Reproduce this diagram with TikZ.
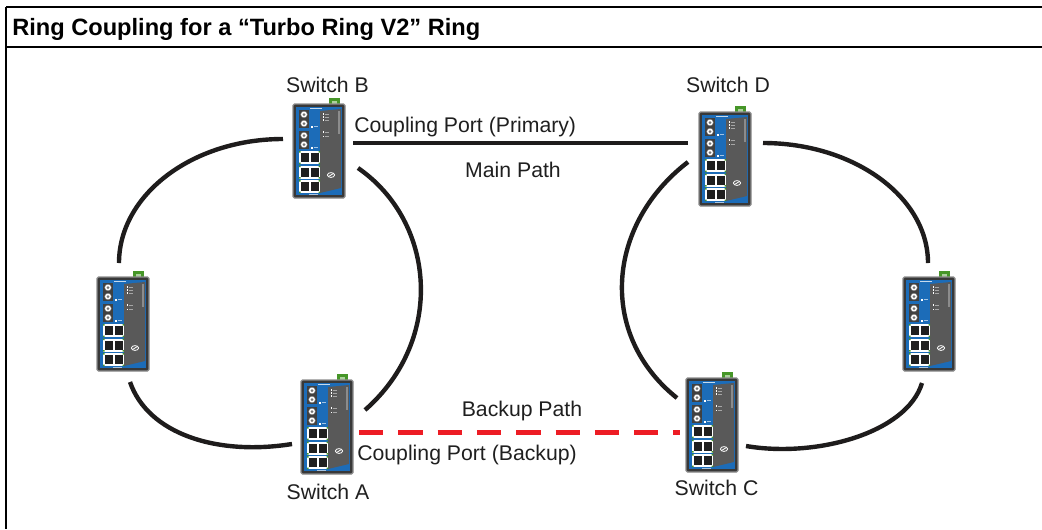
\documentclass[tikz,border=0pt]{standalone}
\usepackage{fontspec}
\setmainfont{Liberation Sans}
\usetikzlibrary{calc}
\definecolor{moxablue}{RGB}{28,108,184}
\definecolor{termgreen}{RGB}{70,150,40}
\definecolor{cablegray}{RGB}{30,28,28}
\definecolor{backupred}{RGB}{237,28,36}

\begin{document}
\begin{tikzpicture}[x=0.025cm,y=-0.025cm]

\def\px{0.025cm}

\tikzset{lbl/.style={font=\fontsize{15.1}{18}\selectfont, text=black!88, inner sep=0},
switch/.style={minimum width=52*\px, minimum height=94*\px, inner sep=0, outer sep=0},
ring/.style={cablegray, line width=4.4*\px},
backup/.style={backupred, line width=5*\px, dash pattern=on 0.6075cm off 0.375cm},
moxa/.pic={
\fill[termgreen] (36,-6) rectangle (47,1);
\fill[termgreen!45!white] (39,-3.5) rectangle (44,-0.5);
\filldraw[fill=black!78, draw=black!45, line width=1.2*\px, rounded corners=1.5*\px] (0,0) rectangle (52,94);
\fill[moxablue] (3,3) rectangle (49,91);
\fill[black!65] (27,7) -- (48,5) -- (48,84) -- (27,89) -- cycle;
\fill[white!75!moxablue] (17,3.7) rectangle (29,5.3);
\foreach \fy in {6,27}
	{
	\fill[black!75] (6,\fy) rectangle (16,\fy+18);
	\foreach \cy in {4.5,13.5}
		{
		\filldraw[fill=white, draw=black!60, line width=0.5*\px] (11,\fy+\cy) circle[radius=3.4];
		\fill[black!55] (11,\fy+\cy) circle[radius=1.5];
		}
	\fill[white] (18,\fy+16) rectangle (19.5,\fy+17.5);
	\fill[white!60!moxablue] (20.5,\fy+16.3) rectangle (24.5,\fy+17.2);
	}
\foreach \ry in {47,61.5,76}
	{
	\fill[white] (6,\ry) rectangle (27,\ry+13);
	\fill[black!88] (7.5,\ry+2) rectangle (15.5,\ry+11);
	\fill[black!88] (17.5,\ry+2) rectangle (25.5,\ry+11);
	\fill[termgreen] (6,\ry) rectangle (7.5,\ry+1.5) (25.5,\ry) rectangle (27,\ry+1.5)
		(6,\ry+11.5) rectangle (7.5,\ry+13) (25.5,\ry+11.5) rectangle (27,\ry+13);
	}
\foreach \ly in {10,13,16,28,32.5}
	{
	\fill[white] (29.5,\ly-0.7) rectangle (31,\ly+0.7);
	\fill[black!35] (32,\ly-0.4) rectangle (36,\ly+0.4);
	}
\fill[black!45] (45,7) rectangle (46.5,30);
\draw[white, line width=0.8*\px] (38,71) ellipse[x radius=3.6, y radius=2.4];
\draw[white, line width=0.8*\px] (35.5,72.5) -- (40.5,69.5);
\fill[white!60!moxablue] (16,89.5) rectangle (25,90.7);
}}

\useasboundingbox (0,0) rectangle (1042,529);

\draw[line width=1.3*\px] (6,7) -- (1042,7);
\draw[line width=2.2*\px] (6,47) -- (1042,47);
\draw[line width=1.5*\px] (6,7) -- (6,529);
\node[font=\fontsize{16.8}{20}\selectfont\bfseries, anchor=base west, inner sep=0] (title) at (12,35) {Ring Coupling for a “Turbo Ring V2” Ring};

\foreach \n/\x/\y in {swB/293/104, swD/699/112, swL/97/277, swR/903/277, swA/301/380, swC/686/378}
{
\node[switch] (\n) at (\x+26,\y+47) {};
\pic at (\n.north west) {moxa};
}

\node[lbl, anchor=base] (labB) at ($ (swB.north) + (8.5,-12) $) {Switch B};
\node[lbl, anchor=base] (labD) at ($ (swD.north) + (3,-20) $) {Switch D};
\node[lbl, anchor=base] (labA) at ($ (swA.south) + (1,25) $) {Switch A};
\node[lbl, anchor=base] (labC) at ($ (swC.south) + (4.5,23) $) {Switch C};

\draw[ring] ([shift={(-10,-12)}]swB.west) .. controls +(-91,0) and +(0,-68) .. ([shift={(-4,-14)}]swL.north);
\draw[ring] ([shift={(7,11)}]swL.south) .. controls +(18,52) and +(-75,12) .. ([shift={(-9,17)}]swA.west);
\draw[ring] ([shift={(13,17)}]swB.east) .. controls +(78,54) and +(80,-70) .. ([shift={(12,-17)}]swA.east);
\draw[ring] ([shift={(-11,3)}]swD.west) .. controls +(-82,63) and +(-79,-63) .. ([shift={(-9,-27)}]swC.west);
\draw[ring] ([shift={(12,-16)}]swD.east) .. controls +(91,0) and +(0,-66) .. ([shift={(-1,-14)}]swR.north);
\draw[ring] ([shift={(-7,12)}]swR.south) .. controls +(-15,50) and +(70,12) .. ([shift={(8,21)}]swC.east);

\draw[ring] ([shift={(8,-8)}]swB.east) -- ([shift={(-11,-16)}]swD.west);
\draw[backup] ([shift={(6,5)}]swA.east) -- ([shift={(-6,7)}]swC.west);

\node[lbl, anchor=base west] (primary) at ($ (swB.east) + (9,-19) $) {Coupling Port (Primary)};
\node[lbl, anchor=base] (mainpath) at ($ (swB.east)!0.5!(swD.west) + (-9,22) $) {Main Path};
\node[lbl, anchor=base] (backuppath) at ($ (swA.east)!0.5!(swC.west) + (2.5,-10) $) {Backup Path};
\node[lbl, anchor=base west] (backupport) at ($ (swA.east) + (4,33) $) {Coupling Port (Backup)};

\end{tikzpicture}
\end{document}
